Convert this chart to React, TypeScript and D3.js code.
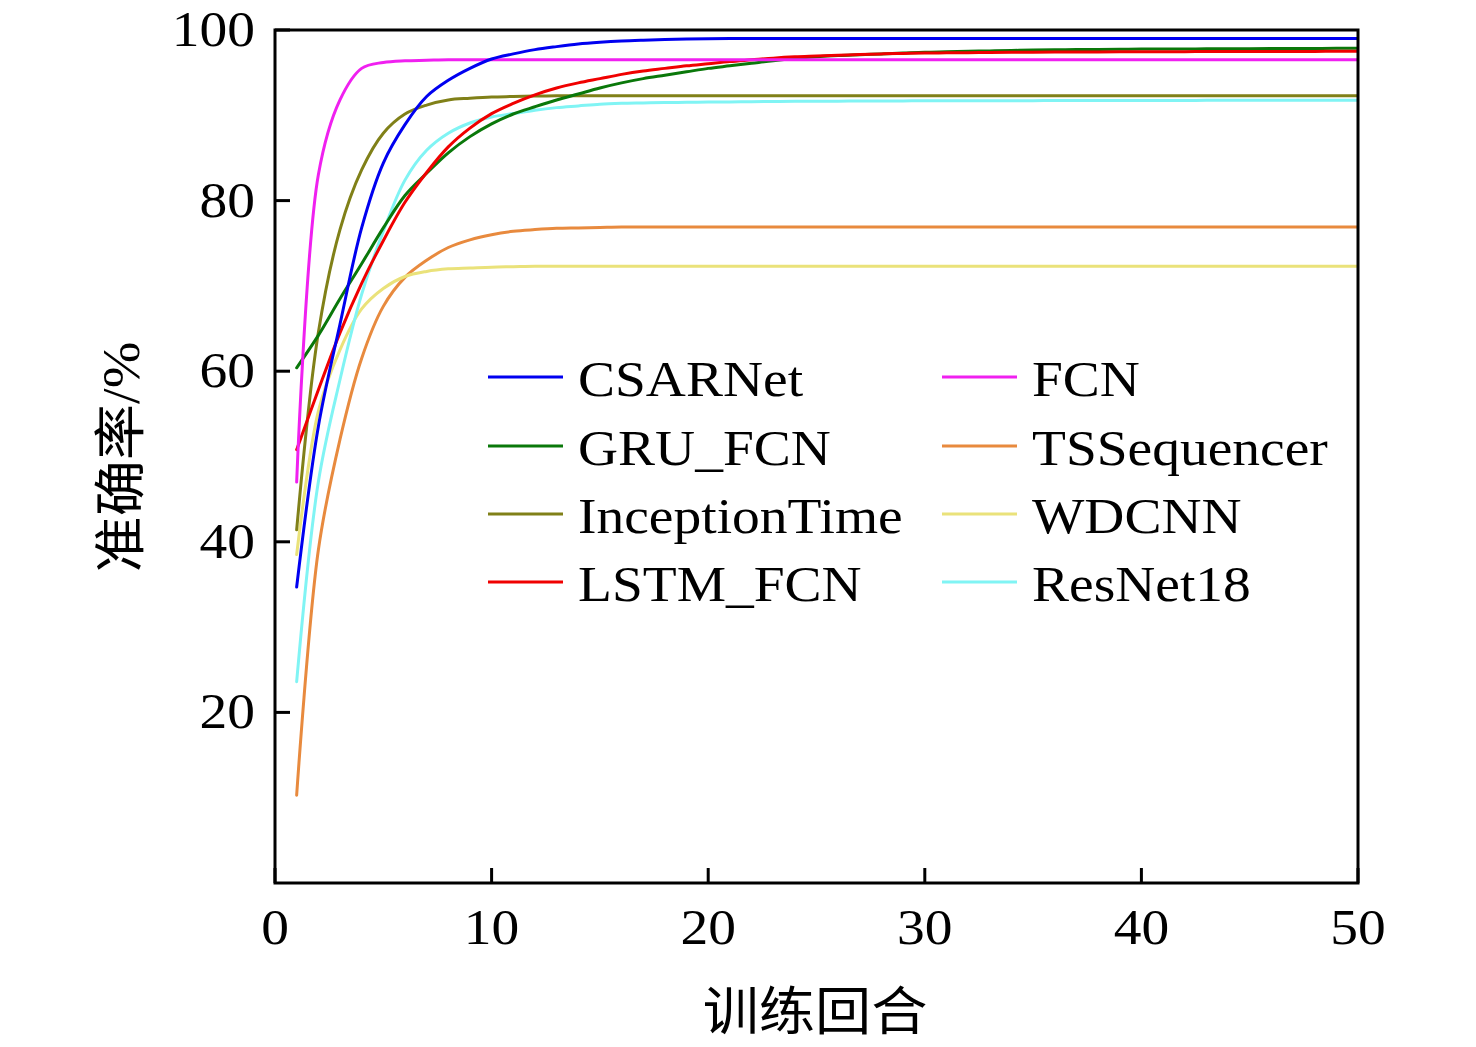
import React from "react";
import * as d3 from "d3";

const epochs = [1,2,3,4,5,6,7,8,9,10,11,12,13,14,15,16,17,18,19,20,21,22,23,24,25,26,27,28,29,30,31,32,33,34,35,36,37,38,39,40,41,42,43,44,45,46,47,48,49,50];

const csarnet = [34.7,53.5,65.5,76.8,84.4,88.9,92.2,94.1,95.5,96.6,97.2,97.7,98.05,98.35,98.55,98.7,98.8,98.88,98.94,98.98,99.0,99.0,99.0,99.0,99.0,99.0,99.0,99.0,99.0,99.0,99.0,99.0,99.0,99.0,99.0,99.0,99.0,99.0,99.0,99.0,99.0,99.0,99.0,99.0,99.0,99.0,99.0,99.0,99.0,99.0];
const fcn = [47.0,83.0,91.8,95.5,96.2,96.4,96.45,96.5,96.5,96.5,96.5,96.5,96.5,96.5,96.5,96.5,96.5,96.5,96.5,96.5,96.5,96.5,96.5,96.5,96.5,96.5,96.5,96.5,96.5,96.5,96.5,96.5,96.5,96.5,96.5,96.5,96.5,96.5,96.5,96.5,96.5,96.5,96.5,96.5,96.5,96.5,96.5,96.5,96.5,96.5];
const gruFcn = [60.4,64.2,68.5,72.6,76.8,80.6,83.2,85.6,87.5,89.0,90.15,91.0,91.8,92.5,93.2,93.8,94.3,94.7,95.1,95.5,95.8,96.1,96.4,96.65,96.85,97.0,97.1,97.2,97.3,97.4,97.45,97.5,97.55,97.6,97.65,97.68,97.7,97.72,97.74,97.76,97.77,97.78,97.79,97.8,97.81,97.82,97.83,97.84,97.85,97.85];
const tsSequencer = [10.3,39.0,52.0,61.5,67.6,71.0,73.0,74.5,75.4,76.0,76.4,76.6,76.75,76.8,76.85,76.9,76.9,76.9,76.9,76.9,76.9,76.9,76.9,76.9,76.9,76.9,76.9,76.9,76.9,76.9,76.9,76.9,76.9,76.9,76.9,76.9,76.9,76.9,76.9,76.9,76.9,76.9,76.9,76.9,76.9,76.9,76.9,76.9,76.9,76.9];
const inceptionTime = [41.4,64.5,76.6,83.6,87.9,90.15,91.2,91.8,92.0,92.15,92.2,92.25,92.3,92.3,92.3,92.3,92.3,92.3,92.3,92.3,92.3,92.3,92.3,92.3,92.3,92.3,92.3,92.3,92.3,92.3,92.3,92.3,92.3,92.3,92.3,92.3,92.3,92.3,92.3,92.3,92.3,92.3,92.3,92.3,92.3,92.3,92.3,92.3,92.3,92.3];
const wdcnn = [38.5,55.3,62.5,67.3,69.7,71.1,71.7,72.0,72.1,72.2,72.25,72.3,72.3,72.3,72.3,72.3,72.3,72.3,72.3,72.3,72.3,72.3,72.3,72.3,72.3,72.3,72.3,72.3,72.3,72.3,72.3,72.3,72.3,72.3,72.3,72.3,72.3,72.3,72.3,72.3,72.3,72.3,72.3,72.3,72.3,72.3,72.3,72.3,72.3,72.3];
const lstmFcn = [50.8,57.8,64.5,70.3,75.3,79.8,83.3,86.3,88.5,90.2,91.4,92.4,93.2,93.8,94.3,94.8,95.2,95.5,95.8,96.05,96.3,96.5,96.7,96.85,96.95,97.05,97.12,97.2,97.25,97.3,97.32,97.34,97.36,97.38,97.4,97.41,97.42,97.43,97.44,97.45,97.46,97.46,97.47,97.47,97.48,97.48,97.49,97.49,97.5,97.5];
const resNet18 = [23.6,47.0,59.0,69.0,76.4,82.4,85.9,87.9,89.1,89.8,90.2,90.6,90.9,91.1,91.3,91.4,91.45,91.5,91.52,91.55,91.57,91.6,91.62,91.64,91.65,91.66,91.67,91.68,91.69,91.7,91.7,91.71,91.71,91.72,91.72,91.73,91.73,91.73,91.74,91.74,91.74,91.74,91.75,91.75,91.75,91.75,91.75,91.75,91.75,91.75];

const seriesNames = ["CSARNet", "FCN", "GRU_FCN", "TSSequencer", "InceptionTime", "WDCNN", "LSTM_FCN", "ResNet18"];
const seriesColors = ["#0000F0", "#F020F0", "#0A780A", "#E88A3E", "#808018", "#EAE27A", "#F00000", "#80F4F4"];
const seriesValues = [csarnet, fcn, gruFcn, tsSequencer, inceptionTime, wdcnn, lstmFcn, resNet18];

const xTicks = [0, 10, 20, 30, 40, 50];
const yTicks = [20, 40, 60, 80, 100];

const W = 1476;
const H = 1047;
const left = 275, right = 1358, top = 30, bottom = 883;
const serif = "'Liberation Serif', 'Times New Roman', serif";
const cjk = "'Noto Sans CJK SC', sans-serif";
const FS = 50;
const SX = 1.11;

export default function App() {
  const x = d3.scaleLinear().domain([0, 50]).range([left, right]);
  const y = d3.scaleLinear().domain([0, 100]).range([bottom, top]);
  const line = d3
    .line<number>()
    .x((_, i) => x(epochs[i]))
    .y((d) => y(d))
    .curve(d3.curveCatmullRom.alpha(0.5));

  const legendRows = [377, 446, 514, 582];
  const legendCols = [488, 942];
  const drawOrder = [3, 5, 7, 4, 2, 6, 1, 0];

  return (
    <svg
      width={W}
      height={H}
      viewBox={`0 0 ${W} ${H}`}
      style={{ position: "absolute", left: 0, top: 0, background: "#fff" }}
    >
      <rect x={0} y={0} width={W} height={H} fill="#fff" />
      <defs>
        <clipPath id="plotClip">
          <rect x={left} y={top} width={right - left} height={bottom - top} />
        </clipPath>
      </defs>
      <g clipPath="url(#plotClip)">
        {drawOrder.map((si) => (
          <path
            key={seriesNames[si]}
            d={line(seriesValues[si]) || ""}
            fill="none"
            stroke={seriesColors[si]}
            strokeWidth={3}
            strokeLinejoin="round"
            strokeLinecap="round"
          />
        ))}
      </g>
      <rect
        x={left}
        y={top}
        width={right - left}
        height={bottom - top}
        fill="none"
        stroke="#000"
        strokeWidth={3}
      />
      {xTicks.map((t) => (
        <g key={"xt" + t}>
          <line x1={x(t)} x2={x(t)} y1={bottom} y2={bottom - 15} stroke="#000" strokeWidth={3} />
          <g transform={`translate(${x(t)}, 944) scale(${SX}, 1)`}>
            <text x={0} y={0} textAnchor="middle" fontFamily={serif} fontSize={FS} fill="#000">
              {t}
            </text>
          </g>
        </g>
      ))}
      {yTicks.map((t) => (
        <g key={"yt" + t}>
          <line x1={left} x2={left + 15} y1={y(t)} y2={y(t)} stroke="#000" strokeWidth={3} />
          <g transform={`translate(255, ${y(t) + 16}) scale(${SX}, 1)`}>
            <text x={0} y={0} textAnchor="end" fontFamily={serif} fontSize={FS} fill="#000">
              {t}
            </text>
          </g>
        </g>
      ))}
      <g transform={`translate(815, 1030) scale(1.08, 1)`}>
        <text x={0} y={0} textAnchor="middle" fontFamily={cjk} fontSize={52} fill="#000">
          训练回合
        </text>
      </g>
      <g transform={`translate(139, 457) rotate(-90) scale(1.08, 1)`}>
        <text x={0} y={0} textAnchor="middle" fontSize={52} fill="#000">
          <tspan fontFamily={cjk}>准确率</tspan>
          <tspan fontFamily={serif}>/%</tspan>
        </text>
      </g>
      {[0, 2, 4, 6, 1, 3, 5, 7].map((si, k) => {
        const col = k < 4 ? 0 : 1;
        const row = k % 4;
        const lx = legendCols[col];
        const ly = legendRows[row];
        return (
          <g key={"lg" + si}>
            <line x1={lx} x2={lx + 75} y1={ly} y2={ly} stroke={seriesColors[si]} strokeWidth={3} />
            <g transform={`translate(${lx + 90}, ${ly + 19}) scale(${SX}, 1)`}>
              <text x={0} y={0} fontFamily={serif} fontSize={FS} fill="#000">
                {seriesNames[si]}
              </text>
            </g>
          </g>
        );
      })}
    </svg>
  );
}
